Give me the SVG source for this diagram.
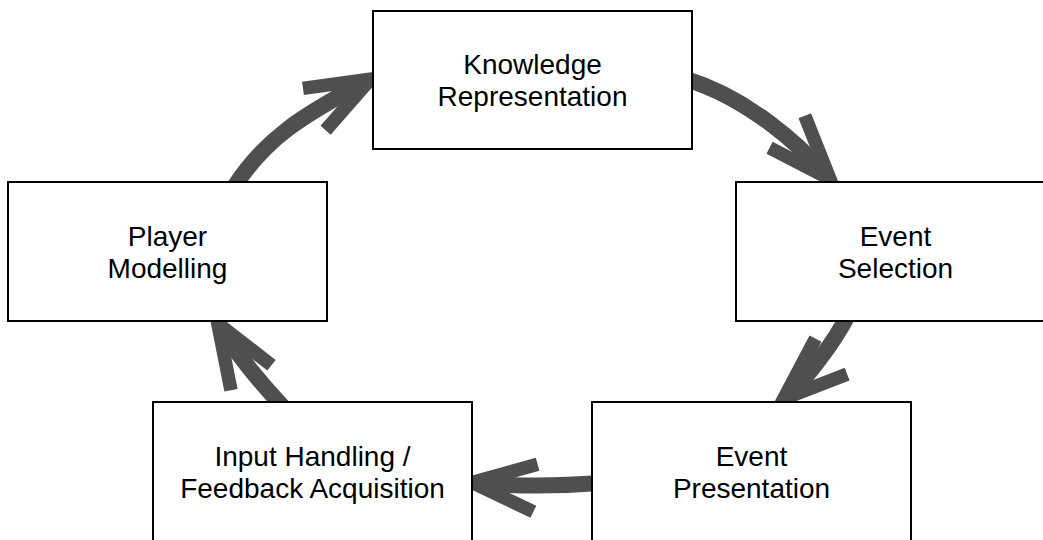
<svg xmlns="http://www.w3.org/2000/svg" width="1043" height="540" viewBox="0 0 1043 540">
<style>
.box{fill:#fff;stroke:#000;stroke-width:2}
.lbl{font-family:"Liberation Sans",Arial,Helvetica,sans-serif;font-size:28px;fill:#000;text-anchor:middle}
.arr{fill:none;stroke:#4f4f4f;stroke-width:16;stroke-linecap:butt;marker-end:url(#ah)}
</style>
<defs>
<marker id="ah" markerUnits="userSpaceOnUse" orient="auto" viewBox="-100 -100 200 200" markerWidth="200" markerHeight="200" refX="-8" refY="0" overflow="visible">
<path d="M -63.7,-23.8 L 0,0 L -63.7,23.8" fill="none" stroke="#4f4f4f" stroke-width="13.5" stroke-linejoin="miter" stroke-miterlimit="10" stroke-linecap="butt"/>
</marker>
</defs>
<g id="connectors">
<path class="arr" d="M 234,187 C 266,138 302,116 363.3,82.9"/>
<path class="arr" d="M 686,79 C 750,99 800,146 824.6,173.1"/>
<path class="arr" d="M 847.3,316.6 C 834,342 807,378 789.7,393.4"/>
<path class="arr" d="M 600,483 C 560,486 518,486.5 480,483.1"/>
<path class="arr" d="M 282.6,406.4 C 262,384.5 236,353 222,330.3"/>
</g>
<g id="knowledge">
<rect class="box" x="373" y="11" width="319" height="138"/>
<text class="lbl" x="532.5" y="73.5">Knowledge</text>
<text class="lbl" x="532.5" y="105.5">Representation</text>
</g>
<g id="event-selection">
<rect class="box" x="736" y="182" width="319" height="139"/>
<text class="lbl" x="895.5" y="245.5">Event</text>
<text class="lbl" x="895.5" y="277.5">Selection</text>
</g>
<g id="event-presentation">
<rect class="box" x="592" y="402" width="319" height="145"/>
<text class="lbl" x="751.5" y="465.5">Event</text>
<text class="lbl" x="751.5" y="497.5">Presentation</text>
</g>
<g id="input-handling">
<rect class="box" x="153" y="402" width="319" height="145"/>
<text class="lbl" x="312.5" y="465.5">Input Handling /</text>
<text class="lbl" x="312.5" y="497.5">Feedback Acquisition</text>
</g>
<g id="player-modelling">
<rect class="box" x="8" y="182" width="319" height="139"/>
<text class="lbl" x="167.5" y="245.5">Player</text>
<text class="lbl" x="167.5" y="277.5">Modelling</text>
</g>
</svg>
